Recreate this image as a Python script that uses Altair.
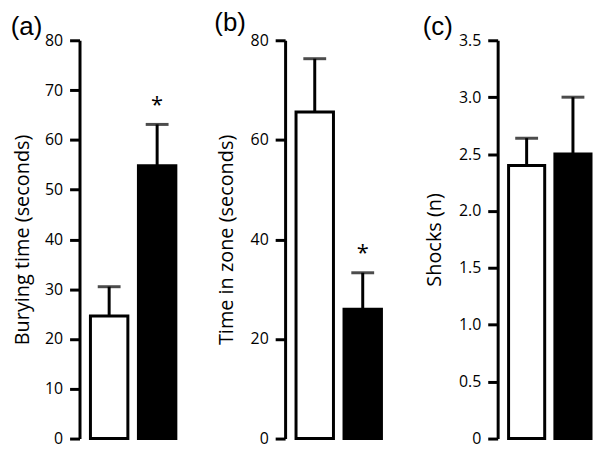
import altair as alt
import pandas as pd

groups = ["Control", "Test"]
panel_labels = ["(a)", "(b)", "(c)"]
y_titles = ["Burying time (seconds)", "Time in zone (seconds)", "Shocks (n)"]

a_mean = [24.6, 54.8]
a_sem = [5.9, 8.3]
b_mean = [65.6, 26.0]
b_sem = [10.7, 7.3]
c_mean = [2.40, 2.50]
c_sem = [0.24, 0.50]
signif = [["", "*"], ["", "*"], ["", ""]]

a_ticks = [0, 10, 20, 30, 40, 50, 60, 70, 80]
b_ticks = [0, 20, 40, 60, 80]
c_ticks = [0, 0.5, 1.0, 1.5, 2.0, 2.5, 3.0, 3.5]
domains = [[0, 80], [0, 80], [0, 3.5]]
panel_widths = [86, 86, 83]
title_pads = [12, 14, 14]

FONT = "Open Sans"


def panel(i, means, sems, ticks):
    df = pd.DataFrame({
        "group": groups,
        "mean": means,
        "upper": [m + s for m, s in zip(means, sems)],
        "sig": signif[i],
    })
    fmt = "datum.value == 0 ? '0' : format(datum.value, '.1f')" if i == 2 else "format(datum.value, 'd')"
    x = alt.X("group:N", sort=groups, axis=None,
              scale=alt.Scale(paddingInner=0.22, paddingOuter=0))
    y_scale = alt.Scale(domain=domains[i], nice=False, zero=True)
    base = alt.Chart(df).encode(x=x)
    bars = base.mark_bar(stroke="black", strokeWidth=3).encode(
        y=alt.Y("mean:Q", scale=y_scale, title=y_titles[i],
                axis=alt.Axis(values=ticks, labelExpr=fmt, titlePadding=title_pads[i])),
        fill=alt.Fill("group:N", scale=alt.Scale(domain=groups, range=["white", "black"]), legend=None),
    )
    rule = base.mark_rule(color="black", strokeWidth=3).encode(
        y=alt.Y("mean:Q", scale=y_scale), y2="upper:Q")
    cap = base.mark_tick(color="black", thickness=3, size=23).encode(
        y=alt.Y("upper:Q", scale=y_scale))
    star = base.mark_text(font=FONT, fontSize=22, dy=-20, baseline="middle", color="black").encode(
        y=alt.Y("upper:Q", scale=y_scale), text="sig:N")
    return alt.layer(rule, bars, cap, star).properties(
        width=panel_widths[i], height=401,
        title=alt.TitleParams(panel_labels[i], anchor="start", frame="bounds",
                              fontSize=26, fontWeight="normal", font="Liberation Sans",
                              offset=-8, color="black", dx=-2),
    )


chart = alt.hconcat(
    alt.hconcat(panel(0, a_mean, a_sem, a_ticks), panel(1, b_mean, b_sem, b_ticks), spacing=36),
    panel(2, c_mean, c_sem, c_ticks),
    spacing=39,
).configure_view(stroke=None).configure_axis(
    domainWidth=3, domainColor="black", tickWidth=3, tickSize=10, tickColor="black",
    labelFont=FONT, labelFontSize=16, labelColor="black", labelPadding=7,
    titleFont=FONT, titleFontSize=20, titleFontWeight="normal", titleColor="black",
    grid=False, offset=11,
).properties(padding={"left": 2, "top": 0, "right": 0, "bottom": 0})

chart.save("out.html", embed_options={"renderer": "svg", "actions": False})
